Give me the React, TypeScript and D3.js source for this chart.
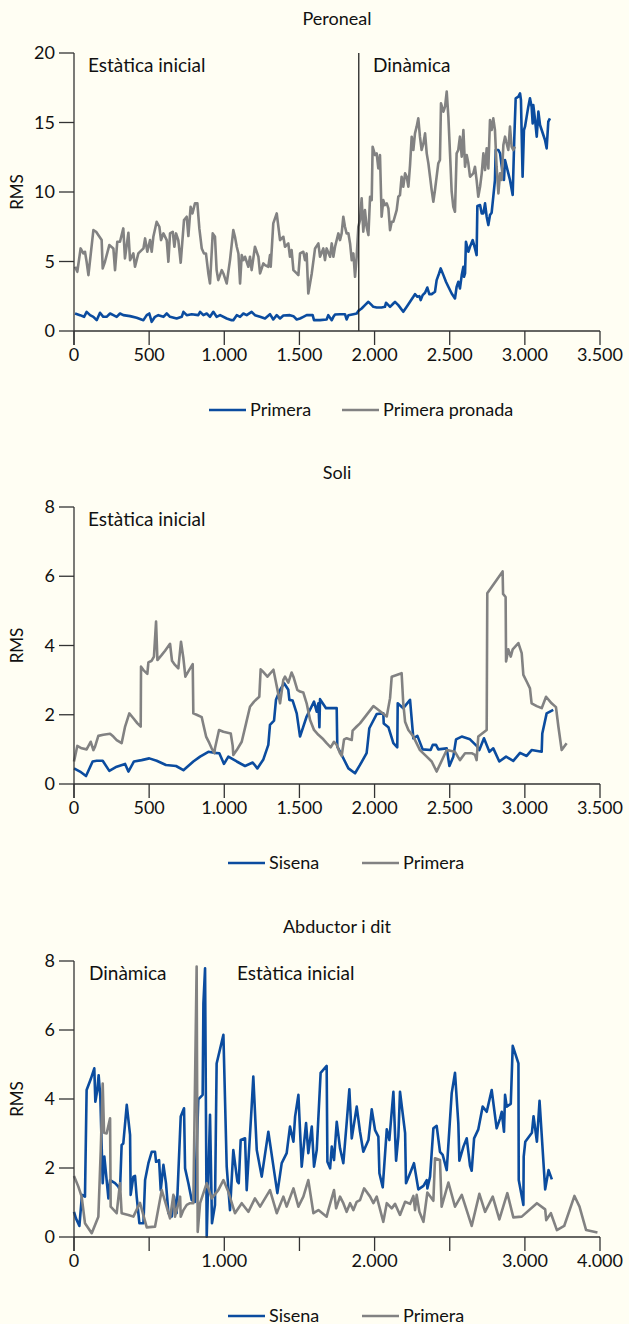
import React from "react";
import * as d3 from "d3";

// ---------- DATA ----------
// Peroneal (time ms, RMS)
const peronealPrimera: [number, number][] = [
  [7,1.26],[40,1.14],[67,1.02],[84,1.38],[107,1.14],[129,1.02],[151,0.78],[173,1.31],[195,1.02],[217,1.02],[240,1.26],[262,1.14],[284,1.02],[306,1.26],[328,1.14],[373,1.07],[417,0.95],[462,0.78],[484,1.14],[501,1.26],[517,0.66],[539,1.02],[561,1.14],[595,1.02],[617,1.26],[639,1.02],[683,0.9],[717,1.02],[728,1.38],[750,1.14],[783,1.21],[827,1.14],[839,1.38],[861,1.14],[883,1.26],[905,1.02],[927,1.38],[949,1.02],[972,1.14],[1016,0.9],[1049,0.78],[1060,0.78],[1083,1.14],[1105,1.02],[1127,1.26],[1149,1.14],[1182,1.38],[1204,1.14],[1238,1.02],[1271,0.9],[1304,1.21],[1326,0.83],[1349,1.14],[1371,0.9],[1393,1.12],[1437,1.14],[1460,1.07],[1482,0.83],[1504,0.9],[1526,1.02],[1548,1.14],[1588,1.14],[1597,0.78],[1637,0.78],[1681,0.83],[1692,1.14],[1715,0.78],[1726,1.02],[1737,1.19],[1770,1.21],[1803,1.21],[1814,0.83],[1826,1.14],[1859,1.21],[1881,1.26],
  [1892,1.45],[1914,1.62],[1936,1.86],[1959,2.1],[1981,1.86],[1992,1.74],[2014,1.69],[2047,1.69],[2069,1.74],[2076,2.03],[2092,1.86],[2103,1.74],[2125,1.98],[2136,2.1],[2158,1.86],[2191,1.38],[2214,1.74],[2236,2.1],[2258,2.46],[2269,2.65],[2285,2.46],[2298,2.51],[2307,2.22],[2320,2.58],[2336,2.75],[2351,3.13],[2364,2.65],[2380,2.65],[2402,2.82],[2413,3.66],[2429,4.14],[2440,4.5],[2458,4.02],[2475,3.54],[2491,3.18],[2513,2.7],[2535,2.34],[2546,3.18],[2557,3.54],[2568,3.06],[2580,4.02],[2591,4.62],[2595,3.9],[2602,4.14],[2608,6.42],[2624,5.7],[2635,6.06],[2653,6.54],[2668,5.94],[2679,5.46],[2684,8.99],[2702,9.06],[2713,8.46],[2724,8.46],[2735,9.18],[2746,8.22],[2757,7.62],[2768,8.34],[2779,8.51],[2790,9.66],[2801,10.86],[2806,13.02],[2824,13.02],[2835,12.78],[2852,11.34],[2861,10.86],[2868,12.3],[2879,11.82],[2890,11.34],[2901,10.86],[2919,9.78],[2930,13.98],[2939,16.74],[2957,16.86],[2968,17.1],[2974,16.62],[2985,11.1],[2994,14.46],[3001,14.7],[3012,15.42],[3023,16.14],[3034,16.74],[3045,16.14],[3052,14.94],[3056,16.26],[3068,15.18],[3079,13.98],[3090,15.78],[3101,14.82],[3112,14.46],[3134,13.74],[3145,13.14],[3156,15.06],[3167,15.3]
];
const peronealPronada: [number, number][] = [
  [7,4.62],[22,4.26],[44,5.94],[62,5.58],[73,5.7],[84,4.98],[96,4.02],[129,7.26],[147,7.14],[184,6.54],[191,4.5],[206,4.98],[235,6.18],[262,5.94],[273,4.38],[288,6.42],[306,6.42],[328,7.38],[339,5.22],[362,7.07],[373,5.1],[395,5.58],[406,4.62],[428,5.58],[462,5.94],[473,6.66],[488,5.7],[506,6.54],[517,5.7],[528,6.78],[550,7.86],[568,7.5],[579,6.54],[595,7.02],[617,6.54],[628,4.98],[639,7.02],[657,7.14],[668,6.06],[679,7.02],[694,6.54],[710,4.91],[732,7.98],[750,8.22],[761,6.83],[776,8.94],[788,8.46],[805,9.18],[821,9.18],[834,7.38],[850,5.94],[865,5.58],[878,5.58],[894,4.14],[905,3.42],[923,7.02],[938,6.78],[949,4.38],[960,3.66],[983,4.38],[994,4.14],[1016,3.42],[1038,5.1],[1060,7.26],[1071,6.78],[1083,6.06],[1094,5.58],[1105,3.42],[1116,5.46],[1127,5.1],[1138,5.34],[1160,4.62],[1171,5.34],[1182,4.38],[1204,6.06],[1227,5.34],[1238,4.14],[1260,4.86],[1271,4.74],[1293,4.62],[1304,5.46],[1309,4.62],[1326,7.74],[1349,8.46],[1371,6.54],[1393,6.78],[1404,6.06],[1426,6.3],[1437,5.34],[1448,5.82],[1460,4.38],[1482,4.14],[1493,4.02],[1504,5.58],[1526,5.7],[1537,5.1],[1548,5.58],[1559,2.7],[1582,4.14],[1604,5.94],[1626,6.3],[1637,5.34],[1659,5.94],[1670,5.1],[1681,5.94],[1704,5.34],[1715,6.3],[1726,5.34],[1737,6.06],[1759,7.02],[1770,6.54],[1781,7.02],[1792,8.22],[1803,7.5],[1814,7.02],[1826,7.02],[1837,6.3],[1848,5.1],[1859,5.58],[1870,3.9],[1881,5.34],[1892,7.5],
  [1903,7.98],[1914,9.54],[1925,7.14],[1936,8.7],[1947,7.5],[1959,6.9],[1970,9.66],[1981,9.42],[1987,13.26],[2003,12.66],[2014,12.78],[2025,11.7],[2036,12.66],[2047,8.22],[2058,9.42],[2069,9.06],[2081,9.18],[2092,8.82],[2103,7.26],[2114,7.86],[2125,7.86],[2147,8.7],[2158,9.66],[2169,9.78],[2180,11.1],[2191,10.38],[2203,11.34],[2214,11.1],[2225,10.38],[2236,11.94],[2247,13.98],[2258,13.02],[2269,14.22],[2280,14.7],[2291,15.3],[2302,13.98],[2313,13.02],[2325,13.5],[2336,14.22],[2347,12.78],[2358,12.06],[2369,11.1],[2380,10.14],[2391,9.3],[2402,10.14],[2413,11.1],[2424,12.06],[2435,12.3],[2442,16.38],[2458,15.78],[2469,16.14],[2480,17.22],[2491,15.42],[2502,12.78],[2513,10.02],[2524,8.94],[2535,8.58],[2546,12.78],[2557,13.02],[2568,13.98],[2580,12.54],[2591,14.46],[2602,11.82],[2613,12.66],[2624,12.06],[2635,11.1],[2646,11.22],[2657,11.34],[2668,11.82],[2679,10.86],[2690,9.66],[2702,10.38],[2713,11.34],[2724,12.78],[2735,11.58],[2746,13.14],[2757,11.7],[2768,15.18],[2779,14.46],[2790,15.3],[2801,14.46],[2812,11.82],[2824,9.9],[2835,11.34],[2846,10.86],[2857,13.38],[2868,13.98],[2879,13.5],[2890,13.02],[2901,14.7],[2912,13.26],[2923,13.02],[2934,13.26]
];
// Soli
const soliSisena: [number, number][] = [
  [0,0.45],[40,0.36],[80,0.23],[124,0.65],[151,0.67],[191,0.67],[235,0.38],[284,0.5],[340,0.58],[362,0.36],[399,0.65],[450,0.69],[501,0.74],[550,0.67],[612,0.55],[679,0.52],[728,0.4],[794,0.65],[839,0.79],[894,0.93],[932,0.9],[967,0.89],[998,0.58],[1027,0.79],[1083,0.65],[1138,0.52],[1189,0.62],[1220,0.45],[1260,0.71],[1293,1.13],[1304,1.71],[1331,1.83],[1344,2.43],[1371,2.72],[1398,2.91],[1426,2.72],[1433,2.43],[1455,2.41],[1482,2.04],[1504,1.37],[1548,1.95],[1597,2.38],[1615,2.09],[1626,2.33],[1633,1.64],[1637,2.45],[1677,2.19],[1748,2.19],[1752,1.08],[1781,0.84],[1826,0.45],[1870,0.31],[1903,0.55],[1947,0.89],[1952,1.08],[1965,1.61],[2014,2.02],[2058,2.04],[2061,1.75],[2092,1.64],[2125,1.18],[2151,1.06],[2154,2.33],[2191,2.19],[2236,2.43],[2258,1.32],[2285,1.39],[2320,1.0],[2373,0.98],[2387,1.13],[2409,1.13],[2424,1.0],[2480,1.03],[2498,0.52],[2524,0.79],[2542,1.29],[2580,1.37],[2635,1.29],[2679,1.1],[2697,0.98],[2728,1.32],[2764,0.93],[2790,1.03],[2830,0.65],[2875,0.79],[2923,0.67],[2968,0.9],[3012,0.81],[3045,0.98],[3112,0.93],[3116,1.46],[3145,2.04],[3189,2.14]
];
const soliPrimera: [number, number][] = [
  [0,0.65],[22,1.1],[51,1.03],[84,1.0],[111,1.22],[129,0.98],[140,1.08],[162,1.39],[195,1.42],[240,1.45],[262,1.37],[284,1.27],[317,1.18],[340,1.66],[368,2.04],[395,1.9],[422,1.75],[444,1.66],[446,3.39],[462,3.29],[488,3.18],[495,3.51],[517,3.56],[532,3.68],[546,4.69],[555,3.58],[584,3.73],[606,3.85],[639,4.05],[652,3.56],[672,3.44],[694,3.34],[712,4.11],[728,3.63],[741,3.1],[761,3.25],[790,3.46],[794,2.04],[816,2.0],[850,1.93],[861,1.71],[879,1.37],[901,1.18],[916,1.03],[934,0.89],[938,1.03],[965,1.56],[994,1.51],[1043,1.46],[1056,1.1],[1060,0.84],[1083,0.98],[1116,1.22],[1145,1.75],[1171,2.23],[1198,2.38],[1233,2.52],[1242,3.31],[1256,3.25],[1287,3.1],[1327,3.3],[1353,2.74],[1371,2.33],[1393,3.01],[1404,3.1],[1426,2.93],[1448,3.22],[1460,3.1],[1486,2.72],[1504,2.67],[1526,2.64],[1548,2.33],[1571,1.85],[1597,1.56],[1626,1.42],[1659,1.29],[1681,1.18],[1708,1.06],[1730,1.22],[1748,1.13],[1770,0.89],[1781,0.81],[1797,1.29],[1814,1.32],[1848,1.27],[1854,1.54],[1881,1.66],[1903,1.75],[1992,2.25],[2069,1.99],[2081,1.95],[2103,2.48],[2114,3.1],[2180,3.2],[2191,2.33],[2203,1.8],[2225,1.56],[2258,1.37],[2302,0.98],[2347,0.79],[2380,0.65],[2413,0.36],[2480,0.98],[2535,0.93],[2568,0.69],[2602,0.89],[2646,0.89],[2668,0.84],[2679,0.69],[2690,1.37],[2746,1.56],[2750,5.51],[2852,6.14],[2855,5.49],[2872,5.4],[2875,3.54],[2890,3.89],[2906,3.68],[2919,3.89],[2957,4.07],[2979,3.78],[2990,3.15],[3012,2.96],[3034,2.76],[3045,2.33],[3079,2.25],[3112,2.19],[3141,2.52],[3178,2.33],[3207,2.22],[3223,1.66],[3245,0.98],[3278,1.18]
];
// Abductor i dit
const abductorSisena: [number, number][] = [
  [0,0.73],[13,0.54],[36,0.32],[53,1.22],[73,1.17],[84,4.26],[111,4.57],[135,4.89],[142,3.92],[155,4.26],[164,4.69],[175,4.07],[191,1.56],[202,2.33],[229,1.12],[240,1.65],[273,1.56],[295,1.46],[306,1.36],[317,2.67],[328,2.71],[351,3.83],[373,2.96],[377,1.22],[395,1.75],[406,1.77],[417,1.17],[435,0.4],[462,0.4],[473,1.65],[495,2.14],[517,2.47],[539,2.47],[546,2.18],[566,2.23],[577,1.36],[595,2.09],[612,1.56],[628,0.69],[650,0.59],[666,1.17],[683,0.69],[710,3.49],[732,3.73],[739,1.99],[761,1.56],[783,1.07],[805,1.02],[827,3.99],[856,4.12],[861,6.77],[872,7.79],[883,0.01],[905,3.54],[918,0.4],[938,0.93],[949,5.03],[994,5.86],[1016,2.04],[1038,0.78],[1060,2.52],[1087,1.61],[1096,1.56],[1109,2.81],[1138,2.86],[1149,1.36],[1182,3.78],[1193,4.65],[1216,2.52],[1249,1.75],[1293,3.05],[1327,2.04],[1353,1.27],[1382,2.14],[1415,2.43],[1437,3.2],[1460,2.76],[1471,3.49],[1493,4.12],[1515,2.04],[1544,3.3],[1559,2.43],[1582,3.2],[1597,2.04],[1615,2.52],[1641,4.76],[1681,4.96],[1686,2.18],[1704,1.99],[1715,2.62],[1730,2.23],[1748,3.34],[1770,2.57],[1792,2.14],[1814,3.3],[1832,4.28],[1848,2.86],[1881,3.78],[1903,3.05],
  [1925,2.47],[1959,2.81],[1981,3.7],[2003,3.1],[2025,2.91],[2032,1.85],[2054,1.44],[2081,3.12],[2098,2.81],[2125,4.21],[2143,2.21],[2158,2.91],[2169,4.21],[2203,3.01],[2209,1.56],[2236,1.85],[2262,2.14],[2291,1.38],[2325,1.48],[2347,1.65],[2351,1.41],[2369,1.75],[2391,3.15],[2413,3.22],[2435,2.47],[2453,2.38],[2480,1.94],[2513,4.17],[2535,4.76],[2557,3.3],[2564,2.21],[2591,2.62],[2613,2.86],[2635,2.06],[2646,1.92],[2662,2.86],[2690,3.12],[2719,3.78],[2746,3.63],[2779,4.26],[2812,3.15],[2835,3.44],[2846,3.63],[2861,3.05],[2868,4.12],[2879,3.78],[2906,3.86],[2919,5.54],[2957,5.03],[2959,1.65],[2990,0.93],[2992,2.33],[3005,2.76],[3093,3.02],[3115,3.5],[3160,2.76],[3195,3.95],[3270,1.38],[3315,1.94],[3359,1.67]
];
const abductorPrimera: [number, number][] = [
  [0,1.77],[29,1.46],[51,1.17],[73,0.4],[118,0.11],[162,0.59],[178,2.52],[191,4.45],[200,3.02],[217,3.0],[240,3.44],[244,0.88],[284,0.69],[306,1.56],[317,0.69],[362,0.64],[395,0.59],[439,0.99],[484,0.28],[539,0.3],[584,1.36],[639,0.54],[661,1.22],[672,0.59],[706,1.17],[710,0.59],[728,0.78],[750,0.93],[772,0.98],[794,0.98],[816,7.84],[823,0.15],[839,0.98],[883,1.56],[916,1.12],[960,1.36],[994,1.65],[1027,1.31],[1071,0.69],[1116,0.98],[1160,0.73],[1204,1.12],[1238,0.88],[1304,1.36],[1349,0.69],[1393,1.17],[1415,0.88],[1460,1.41],[1493,0.88],[1526,1.17],[1559,1.65],[1593,0.69],[1626,0.78],[1681,0.59],[1692,0.78],[1730,1.36],[1744,0.83],[1770,1.17],[1792,0.98],[1814,0.73],[1837,0.98],[1859,0.78],[1881,1.02],[1903,1.07],
  [1930,1.41],[1970,1.17],[1992,0.98],[2014,1.17],[2058,0.44],[2081,0.98],[2114,0.83],[2136,0.96],[2169,0.64],[2203,1.02],[2236,0.96],[2258,1.19],[2269,0.78],[2280,1.22],[2298,0.73],[2325,0.44],[2351,1.29],[2391,1.05],[2402,2.28],[2435,2.23],[2446,0.88],[2491,1.58],[2535,0.88],[2580,1.22],[2646,0.32],[2697,1.25],[2735,0.73],[2786,1.17],[2830,0.51],[2883,1.27],[2923,0.57],[2979,0.59],[3160,0.98],[3270,0.8],[3284,0.49],[3346,0.69],[3426,0.2],[3523,0.32],[3660,1.19],[3727,0.88],[3815,0.2],[3966,0.13]
];

const xTicksA = [0, 500, 1000, 1500, 2000, 2500, 3000, 3500];
const xTicksB = [0, 500, 1000, 1500, 2000, 2500, 3000, 4000];
const xLabelsB = [0, 1000, 2000, 3000, 4000];
const yTicksPeroneal = [0, 5, 10, 15, 20];
const yTicksSmall = [0, 2, 4, 6, 8];
const peronealDivider = 1895;

const BLUE = "#0B4C9F";
const GREY = "#828282";
const BG = "#FFFEF3";
const FONT = "Lato, 'Open Sans', sans-serif";

const loc = d3.formatLocale({ decimal: ",", thousands: ".", grouping: [3], currency: ["", ""] });
const fmt = loc.format(",");

type Series = { name: string; color: string; data: [number, number][] };

function Panel(props: {
  title: string; top: number; bottom: number; yMax: number; yTicks: number[];
  x: d3.ScaleLinear<number, number>; xTicks: number[]; xLabels: number[];
  series: Series[]; legendX: number[]; annotations: { text: string; x: number }[]; divider?: number;
}) {
  const { title, top, bottom, yMax, yTicks, x, xTicks, xLabels, series, legendX, annotations, divider } = props;
  const y = d3.scaleLinear().domain([0, yMax]).range([bottom, top]);
  const line = d3.line<[number, number]>().x((d) => x(d[0])).y((d) => y(d[1]));
  const left = x.range()[0];
  const right = x.range()[x.range().length - 1];
  const axisColor = "#333";
  return (
    <g>
      <text x={(left + right) / 2} y={top - 28} textAnchor="middle" fontSize={18} fill="#111">{title}</text>
      <text transform={`translate(23,${(top + bottom) / 2}) rotate(-90)`} textAnchor="middle" fontSize={17} fill="#111">RMS</text>
      {series.map((s) => (
        <path key={s.name} d={line(s.data) || ""} fill="none" stroke={s.color} strokeWidth={2.6} strokeLinejoin="round" />
      ))}
      {divider !== undefined && (
        <line x1={x(divider)} x2={x(divider)} y1={top} y2={bottom} stroke="#111" strokeWidth={1.2} />
      )}
      {/* y axis */}
      <line x1={left} x2={left} y1={top} y2={bottom + 14} stroke={axisColor} strokeWidth={1.3} />
      {yTicks.map((t) => (
        <g key={t}>
          <line x1={left - 15} x2={left} y1={y(t)} y2={y(t)} stroke={axisColor} strokeWidth={1.3} />
          <text x={left - 19} y={y(t) + 6} textAnchor="end" fontSize={18} fill="#111">{t}</text>
        </g>
      ))}
      {/* x axis */}
      <line x1={left} x2={right} y1={bottom} y2={bottom} stroke={axisColor} strokeWidth={1.3} />
      {xTicks.map((t) => (
        <line key={t} x1={x(t)} x2={x(t)} y1={bottom} y2={bottom + 14} stroke={axisColor} strokeWidth={1.3} />
      ))}
      {xLabels.map((t) => (
        <text key={t} x={x(t)} y={bottom + 30} textAnchor="middle" fontSize={18} fill="#111">{fmt(t)}</text>
      ))}
      {annotations.map((a) => (
        <text key={a.text} x={a.x} y={top + 19} fontSize={19} fill="#111">{a.text}</text>
      ))}
      {/* legend */}
      {series.map((s, i) => (
        <g key={s.name}>
          <line x1={legendX[i]} x2={legendX[i] + 37} y1={bottom + 79} y2={bottom + 79} stroke={s.color} strokeWidth={2.6} />
          <text x={legendX[i] + 41} y={bottom + 85} fontSize={18} fill="#111">{s.name}</text>
        </g>
      ))}
    </g>
  );
}

export default function App() {
  React.useEffect(() => {
    document.body.style.margin = "0";
    document.body.style.background = BG;
  }, []);
  const xA = d3.scaleLinear().domain([0, 3500]).range([74, 600]);
  const xB = d3.scaleLinear().domain([0, 3000, 4000]).range([74, 524.9, 600]);
  return (
    <svg width={629} height={1324} style={{ display: "block", position: "absolute", left: 0, top: 0 }} fontFamily={FONT}>
      <rect x={0} y={0} width={629} height={1324} fill={BG} />
      <Panel title="Peroneal" top={53} bottom={331} yMax={20} yTicks={yTicksPeroneal} x={xA} xTicks={xTicksA} xLabels={xTicksA}
        series={[{ name: "Primera", color: BLUE, data: peronealPrimera }, { name: "Primera pronada", color: GREY, data: peronealPronada }]}
        legendX={[209, 342]} annotations={[{ text: "Estàtica inicial", x: 88 }, { text: "Dinàmica", x: 373 }]} divider={peronealDivider} />
      <Panel title="Soli" top={507} bottom={784} yMax={8} yTicks={yTicksSmall} x={xA} xTicks={xTicksA} xLabels={xTicksA}
        series={[{ name: "Sisena", color: BLUE, data: soliSisena }, { name: "Primera", color: GREY, data: soliPrimera }]}
        legendX={[228, 362]} annotations={[{ text: "Estàtica inicial", x: 88 }]} />
      <Panel title="Abductor i dit" top={961} bottom={1237} yMax={8} yTicks={yTicksSmall} x={xB} xTicks={xTicksB} xLabels={xLabelsB}
        series={[{ name: "Sisena", color: BLUE, data: abductorSisena }, { name: "Primera", color: GREY, data: abductorPrimera }]}
        legendX={[228, 362]} annotations={[{ text: "Dinàmica", x: 89 }, { text: "Estàtica inicial", x: 237 }]} />
    </svg>
  );
}
